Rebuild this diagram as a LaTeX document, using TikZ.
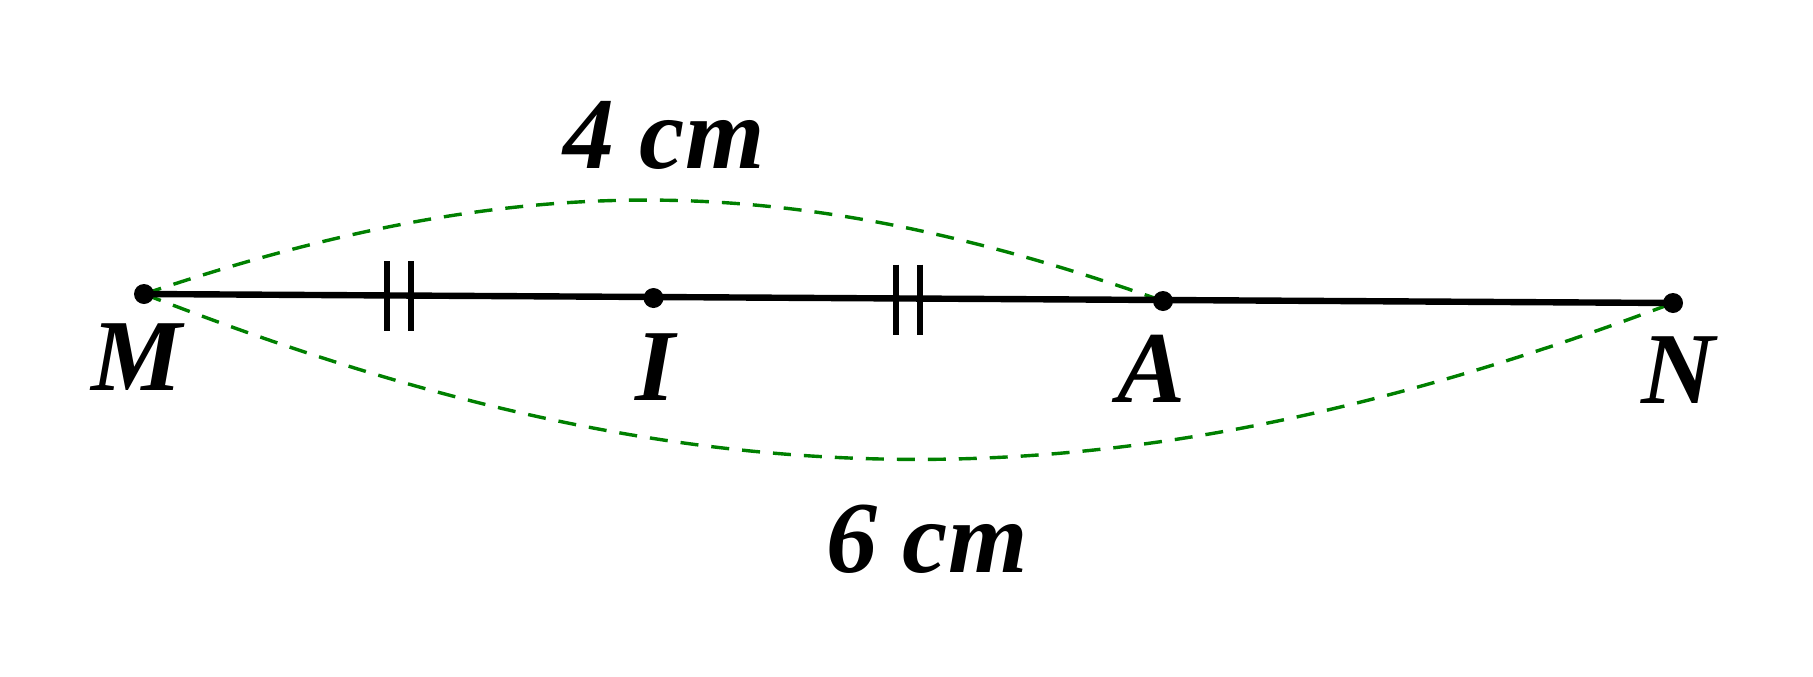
\documentclass[tikz,border=0pt]{standalone}
\usepackage{fontspec}
\setmainfont{Liberation Serif}[BoldItalicFont={Liberation Serif Bold Italic}]
\usetikzlibrary{calc}
\definecolor{arcgreen}{RGB}{0,128,0}
\begin{document}
\begin{tikzpicture}[x=0.25pt,y=-0.25pt,
  seg/.style={line width=1.6pt,black},
  tickmark/.style={line width=1.4pt,black},
  dotpt/.style={fill=black},
  arc/.style={arcgreen,line width=0.85pt,dash pattern=on 4.5pt off 3.25pt},
  lbl/.style={anchor=base,inner sep=0pt,font=\fontsize{25.5pt}{30pt}\selectfont\bfseries\itshape}]
\useasboundingbox (0,0) rectangle (1813,676);
\coordinate (M) at (144,294);
\coordinate (I) at (653.5,298);
\coordinate (A) at (1163,301);
\coordinate (N) at (1673,303);
\draw[arc] (M) to[bend left=19] (A);
\draw[arc] (M) to[bend right=21] (N);
\draw[seg] (M) -- (N);
\coordinate (t1) at ($(M)!0.5!(I)$);
\coordinate (t2) at ($(I)!0.5!(A)$);
\foreach \t in {t1,t2}{
  \draw[tickmark] ($(\t)+(-12,-35)$) -- ($(\t)+(-12,35)$);
  \draw[tickmark] ($(\t)+(12,-35)$) -- ($(\t)+(12,35)$);
}
\foreach \p in {M,I,A,N}{\fill[dotpt] (\p) circle[radius=2.5pt];}
\node[lbl] (lM) at (137,390) {M};
\node[lbl] (lI) at (655,400) {I};
\node[lbl] (lA) at (1152,402) {A};
\node[lbl] (lN) at (1678,403) {N};
\node[lbl] (l4) at (664,168) {4 cm};
\node[lbl] (l6) at (927,572) {6 cm};
\end{tikzpicture}
\end{document}
